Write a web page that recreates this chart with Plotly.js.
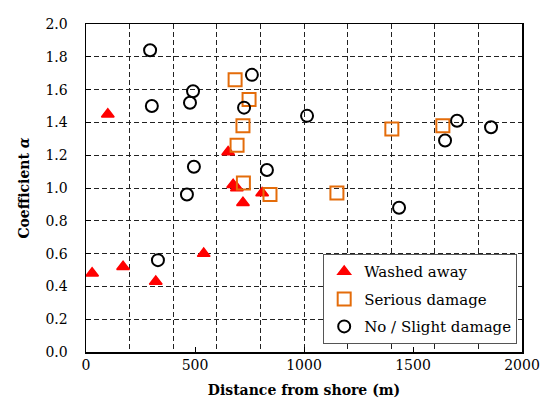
<!DOCTYPE html>
<html>
<head>
<meta charset="utf-8">
<script src="https://cdn.plot.ly/plotly-3.0.1.min.js"></script>
<style>html,body{margin:0;padding:0;background:#fff;}#chart{width:549px;height:408px;}</style>
</head>
<body>
<div id="chart"></div>
<script>
// Washed away (red triangles)
var washedX = [28, 100, 170, 320, 540, 652, 675, 692, 720, 808];
var washedY = [0.48, 1.45, 0.52, 0.43, 0.60, 1.22, 1.02, 1.00, 0.91, 0.97];
// Serious damage (orange squares)
var seriousX = [684, 748, 720, 693, 722, 844, 1151, 1403, 1637];
var seriousY = [1.66, 1.54, 1.38, 1.26, 1.03, 0.96, 0.97, 1.36, 1.38];
// No / Slight damage (black circles)
var noneX = [294, 302, 330, 463, 477, 491, 495, 725, 761, 830, 1014, 1436, 1647, 1702, 1858];
var noneY = [1.84, 1.50, 0.56, 0.96, 1.52, 1.59, 1.13, 1.49, 1.69, 1.11, 1.44, 0.88, 1.29, 1.41, 1.37];

var names = ["Washed away", "Serious damage", "No / Slight damage"];
var xTicks = [0, 500, 1000, 1500, 2000];
var xTickText = ["0", "500", "1000", "1500", "2000"];
var yTicks = [0, 0.2, 0.4, 0.6, 0.8, 1.0, 1.2, 1.4, 1.6, 1.8, 2.0];
var yTickText = ["0.0", "0.2", "0.4", "0.6", "0.8", "1.0", "1.2", "1.4", "1.6", "1.8", "2.0"];

var serif = "DejaVu Serif";

var traces = [
  {x: [], y: [], xaxis: "x2", yaxis: "y", type: "scatter", mode: "markers", showlegend: false, hoverinfo: "skip"},
  {x: washedX, y: washedY, name: names[0], type: "scatter", mode: "markers", legendgroup: "a",
   marker: {symbol: "triangle-up", size: 11, color: "#FF0000", line: {color: "#FF0000", width: 1.5}}},
  {x: seriousX, y: seriousY, name: names[1], type: "scatter", mode: "markers", legendgroup: "b",
   marker: {symbol: "square-open", size: 13, color: "#E46C0A", line: {color: "#E46C0A", width: 2}}},
  {x: noneX, y: noneY, name: names[2], type: "scatter", mode: "markers", legendgroup: "c",
   marker: {symbol: "circle-open", size: 12, color: "#000000", line: {color: "#000000", width: 2}}}
];

var gridStyle = {gridcolor: "#222", gridwidth: 1, griddash: "5px,3px"};

var layout = {
  width: 549, height: 408,
  margin: {l: 86, r: 27, t: 24, b: 56, pad: 0},
  paper_bgcolor: "#fff", plot_bgcolor: "#fff",
  font: {family: serif, color: "#000", size: 14},
  showlegend: true,
  legend: {
    x: 0.544, y: 0.024, xanchor: "left", yanchor: "bottom",
    bgcolor: "#fff", bordercolor: "#555", borderwidth: 1,
    font: {family: serif, size: 15, color: "#000"},
    traceorder: "grouped", tracegroupgap: 5
  },
  xaxis: {
    range: [0, 2000], tickmode: "array", tickvals: xTicks, ticktext: xTickText,
    ticks: "inside", ticklen: 5, tickcolor: "#000", tickwidth: 1,
    showgrid: false, zeroline: false,
    showline: true, linecolor: "#000", linewidth: 1.5, mirror: true,
    tickfont: {family: serif, size: 14, color: "#000"},
    title: {text: "<b>Distance from shore (m)</b>", font: {family: serif, size: 14, color: "#000"}, standoff: 13}
  },
  xaxis2: Object.assign({
    range: [0, 2000], overlaying: "x", tickmode: "linear", tick0: 0, dtick: 200,
    showgrid: true, showticklabels: false, ticks: "", zeroline: false, showline: false
  }, gridStyle),
  yaxis: Object.assign({
    range: [0, 2], tickmode: "array", tickvals: yTicks, ticktext: yTickText,
    ticks: "inside", ticklen: 5, tickcolor: "#000", tickwidth: 1,
    showgrid: true, zeroline: false,
    showline: true, linecolor: "#000", linewidth: 1.5, mirror: true,
    tickfont: {family: serif, size: 14, color: "#000"},
    ticklabelstandoff: 14,
    title: {text: "<b>Coefficient <i>α</i></b>", font: {family: serif, size: 14, color: "#000"}, standoff: 12}
  }, gridStyle)
};

Plotly.newPlot("chart", traces, layout, {displayModeBar: false, staticPlot: true});
</script>
</body>
</html>
